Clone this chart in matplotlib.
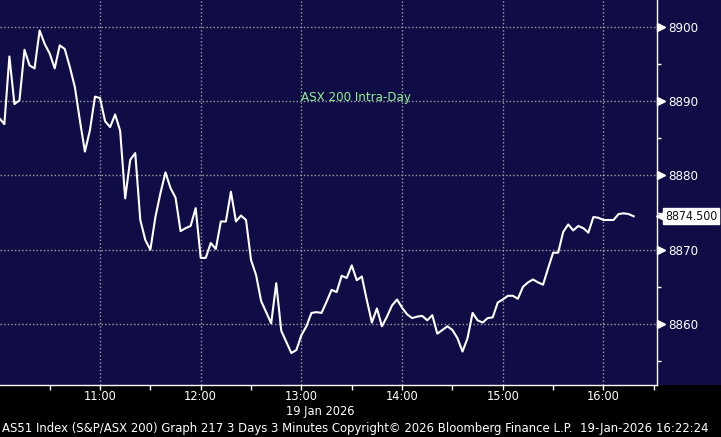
# ASX 200 intra-day chart, Bloomberg terminal look
import pandas as pd
import matplotlib
matplotlib.use("Agg")
import matplotlib.pyplot as plt
import matplotlib.dates as mdates
from matplotlib.patches import Rectangle

NAVY = "#100D46"
GRIDC = "#A0A0A0"
FONT = ["DejaVu Sans Condensed", "DejaVu Sans"]

# ── data (3-minute closes) ──────────────────────────────────────
values = [
    8887.7, 8886.9, 8896.0, 8889.6, 8890.1, 8896.9, 8894.8, 8894.4, 8899.5, 8897.7,
    8896.4, 8894.4, 8897.5, 8897.0, 8894.6, 8891.9, 8887.4, 8883.2, 8886.1, 8890.6,
    8890.4, 8887.3, 8886.5, 8888.2, 8886.0, 8876.9, 8882.1, 8883.0, 8874.0, 8871.3,
    8870.0, 8874.4, 8877.6, 8880.4, 8878.3, 8877.0, 8872.5, 8872.9, 8873.2, 8875.6,
    8868.9, 8868.9, 8870.9, 8870.1, 8873.8, 8873.8, 8877.8, 8873.8, 8874.6, 8874.0,
    8868.6, 8866.6, 8863.1, 8861.6, 8860.1, 8865.5, 8859.1, 8857.6, 8856.1, 8856.5,
    8858.5, 8859.7, 8861.5, 8861.6, 8861.5, 8863.0, 8864.6, 8864.3, 8866.5, 8866.2,
    8867.9, 8865.9, 8866.4, 8863.2, 8860.2, 8862.1, 8859.7, 8861.0, 8862.5, 8863.3,
    8862.2, 8861.3, 8860.8, 8861.0, 8861.1, 8860.5, 8861.2, 8858.7, 8859.2, 8859.7,
    8859.2, 8858.1, 8856.3, 8858.1, 8861.5, 8860.5, 8860.2, 8860.8, 8860.9, 8862.9,
    8863.3, 8863.8, 8863.8, 8863.4, 8865.0, 8865.6, 8866.0, 8865.6, 8865.3, 8867.5,
    8869.6, 8869.6, 8872.4, 8873.4, 8872.6, 8873.2, 8872.9, 8872.3, 8874.4, 8874.3,
    8874.0, 8874.0, 8874.0, 8874.8, 8874.9, 8874.8, 8874.5,
]
last_value = 8874.5
y_major = [8860, 8870, 8880, 8890, 8900]
y_minor = [8855, 8865, 8875, 8885, 8895]
title = "ASX 200 Intra-Day"
date_label = "19 Jan 2026"
footer = ("AS51 Index (S&P/ASX 200) Graph 217 3 Days 3 Minutes "
          "Copyright\u00a9 2026 Bloomberg Finance L.P.  19-Jan-2026 16:22:24")

times = pd.date_range("2026-01-19 10:00", periods=len(values), freq="3min")

plt.rcParams.update({"font.family": FONT, "font.stretch": "condensed"})

W, H = 721, 437
fig = plt.figure(figsize=(W / 100, H / 100), dpi=100, facecolor=NAVY)
fig.patches.append(Rectangle((0, 0), 1, 52 / H, transform=fig.transFigure,
                             facecolor="black", edgecolor="none", zorder=-5))
ax = fig.add_axes([0, 52 / H, 657 / W, 385 / H])
ax.set_facecolor(NAVY)

ax.plot(times, values, color="white", lw=1.5, zorder=3)

# ── axes limits / ticks ─────────────────────────────────────────
ax.set_xlim(pd.Timestamp("2026-01-19 10:00:24"), pd.Timestamp("2026-01-19 16:31:54"))
ax.set_ylim(8851.8, 8903.6)

ax.xaxis.set_major_locator(mdates.HourLocator(byhour=range(11, 17)))
ax.xaxis.set_minor_locator(mdates.MinuteLocator(byminute=[30]))
ax.xaxis.set_major_formatter(mdates.DateFormatter("%H:%M"))
ax.tick_params(axis="x", which="both", colors="white", length=3.6, width=1,
               direction="out", pad=0.3, labelsize=9.2)

ax.yaxis.tick_right()
ax.set_yticks(y_major)
ax.set_yticks(y_minor, minor=True)
ax.tick_params(axis="y", which="major", length=0, pad=8, labelcolor="white",
               labelsize=9.5)
ax.tick_params(axis="y", which="minor", length=3, width=1, color="white")
# little right-pointing arrows at the major ticks
ax.plot([1.0065] * len(y_major), y_major, ls="none", marker=">", ms=5.5,
        color="white", transform=ax.get_yaxis_transform(), clip_on=False)

for s in ["left", "top"]:
    ax.spines[s].set_visible(False)
for s in ["right", "bottom"]:
    ax.spines[s].set_color("white")
    ax.spines[s].set_linewidth(1)

ax.grid(True, which="major", color=GRIDC, lw=1, ls=(0, (1, 1.6)))

# ── last price tag ──────────────────────────────────────────────
ax.plot([1.0075], [last_value], ls="none", marker="<", ms=8, color="white",
        transform=ax.get_yaxis_transform(), clip_on=False, zorder=5)
ax.text(1.012, last_value, f"{last_value:.3f}", transform=ax.get_yaxis_transform(),
        ha="left", va="center", fontsize=8.8, color="#111111", clip_on=False,
        bbox=dict(boxstyle="square,pad=0.12", fc="white", ec="white"), zorder=6)

# ── texts ───────────────────────────────────────────────────────
fig.text(301 / W, 1 - 97 / H, title, color="#90EE90", fontsize=9.5,
         ha="left", va="center")
fig.text(320 / W, 1 - 411.5 / H, date_label, color="white", fontsize=9.2,
         ha="center", va="center")
fig.text(2 / W, 1 - 428.5 / H, footer, color="white", fontsize=9.4,
         ha="left", va="center")

fig.savefig("out.png", dpi=100, facecolor=NAVY)
